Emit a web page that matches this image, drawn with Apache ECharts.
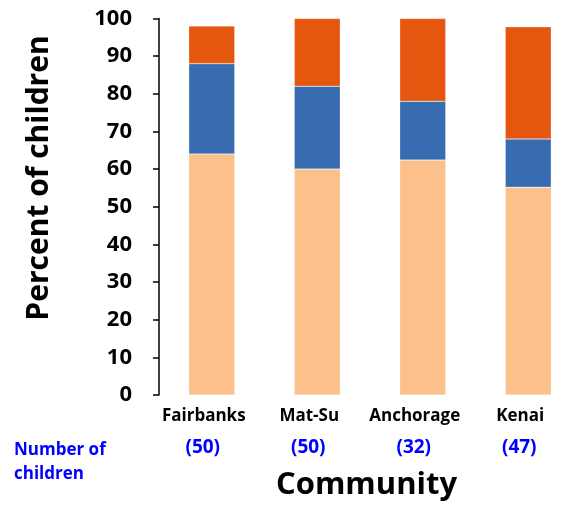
<!DOCTYPE html>
<html>
<head>
<meta charset="utf-8">
<script src="https://cdn.jsdelivr.net/npm/echarts@6/dist/echarts.min.js"></script>
<style>
	html, body { margin: 0; padding: 0; background: #fff; overflow: hidden; }
	#chart { width: 581px; height: 506px; }
</style>
</head>
<body>
<div id="chart"></div>
<script>
var communities = ['Fairbanks', 'Mat-Su', 'Anchorage', 'Kenai'];
var childCounts = [50, 50, 32, 47];
var lowerValues = [64, 60, 62.4, 55.2];
var middleValues = [24, 22, 15.6, 12.8];
var upperValues = [10, 18, 22, 29.8];
var yTicks = [0, 10, 20, 30, 40, 50, 60, 70, 80, 90, 100];

var fontName = '"Open Sans", "DejaVu Sans", sans-serif';
var mainChart = echarts.init(document.getElementById('chart'));

function barSeries(name, values, color) {
	return {
		name: name,
		type: 'bar',
		stack: 'total',
		barWidth: 46,
		data: values,
		itemStyle: {
			color: color,
			borderColor: 'rgba(255, 255, 255, 0.5)',
			borderWidth: 0.5
		}
	};
}

// the plot area runs a little past the right edge of the window, as in the original
var chartOption = {
	backgroundColor: '#ffffff',
	animation: false,
	grid: {
		left: 159,
		top: 18.5,
		right: 0,
		bottom: 111
	},
	xAxis: {
		type: 'category',
		data: communities,
		axisLine: { show: false },
		axisTick: { show: false },
		name: 'Community',
		nameLocation: 'middle',
		nameGap: 75,
		nameTextStyle: {
			color: '#000',
			fontFamily: fontName,
			fontWeight: 'bold',
			fontSize: 31,
			padding: [0, 7, 0, 0]
		},
		axisLabel: {
			interval: 0,
			margin: 10,
			formatter: function (val, idx) {
				return '{a|' + val + '}\n{b|(' + childCounts[idx] + ')}';
			},
			rich: {
				a: {
					color: '#000',
					fontFamily: fontName,
					fontWeight: 'bold',
					fontSize: 17,
					lineHeight: 22,
					padding: [0, 16, 0, 0]
				},
				b: {
					color: '#0000ff',
					fontFamily: fontName,
					fontWeight: 'bold',
					fontSize: 19,
					lineHeight: 42,
					padding: [0, 18, 0, 0]
				}
			}
		}
	},
	yAxis: {
		type: 'value',
		min: yTicks[0],
		max: yTicks[yTicks.length - 1],
		interval: 10,
		axisLine: {
			show: true,
			lineStyle: { color: '#000', width: 1.5 }
		},
		axisTick: {
			show: true,
			length: 6,
			lineStyle: { color: '#000', width: 1.5 }
		},
		splitLine: { show: false },
		axisLabel: {
			margin: 27,
			color: '#000',
			fontFamily: fontName,
			fontWeight: 'bold',
			fontSize: 22
		}
	},
	graphic: [{
		type: 'text',
		x: 39,
		y: 178,
		rotation: Math.PI / 2,
		style: {
			text: 'Percent of children',
			fill: '#000',
			font: 'bold 30px ' + fontName,
			align: 'center',
			verticalAlign: 'middle'
		}
	}, {
		type: 'text',
		left: 14,
		top: 438,
		style: {
			text: 'Number of\nchildren',
			fill: '#0000ff',
			font: 'bold 17px ' + fontName,
			lineHeight: 24
		}
	}],
	series: [
		barSeries('lower', lowerValues, '#fcc08a'),
		barSeries('middle', middleValues, '#386cb0'),
		barSeries('upper', upperValues, '#e5560f')
	]
};

mainChart.setOption(chartOption);
</script>
</body>
</html>
